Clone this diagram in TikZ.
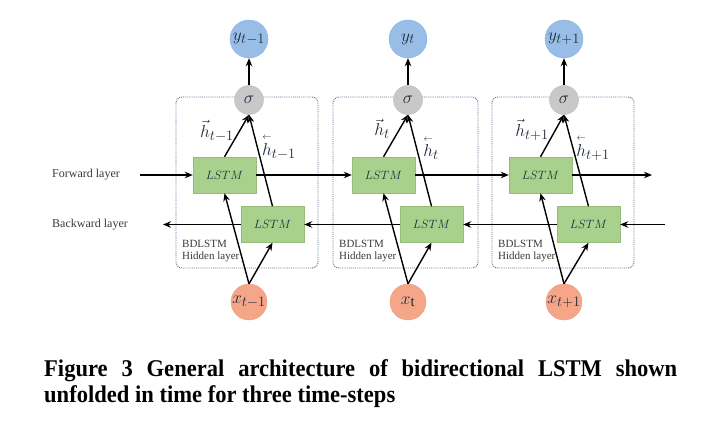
\documentclass[tikz,border=0pt]{standalone}
\usepackage{fontspec}
\setmainfont{Liberation Serif}
\usepackage{amsmath}
\usepackage{graphicx}
\usetikzlibrary{arrows.meta}
\DeclareMathSizes{19}{19}{14.5}{10}
\DeclareMathSizes{18}{18}{13.5}{9}
\DeclareMathSizes{13}{13}{9.5}{7}
\hbadness=10000
\newcommand{\lvec}[1]{\overset{\scriptscriptstyle\leftarrow}{#1}}
\definecolor{yfill}{HTML}{98BEE8}
\definecolor{ybord}{HTML}{8AB0DC}
\definecolor{sfill}{HTML}{C8C8C8}
\definecolor{sbord}{HTML}{BBBBBB}
\definecolor{xfill}{HTML}{F5A588}
\definecolor{xbord}{HTML}{EE9A7C}
\definecolor{gfill}{HTML}{A9D18E}
\definecolor{gbord}{HTML}{94BE78}
\definecolor{dotcol}{HTML}{5E7090}
\definecolor{txtcol}{HTML}{3A3A3A}
\definecolor{mtxt}{HTML}{1E2A3A}
\begin{document}
\begin{tikzpicture}[x=1pt,y=-1pt,
  ycirc/.style={circle,draw=ybord,fill=yfill,minimum size=38pt,inner sep=0pt,font=\fontsize{19}{21}\selectfont,text=mtxt},
  scirc/.style={circle,draw=sbord,fill=sfill,minimum size=29pt,inner sep=0pt,font=\fontsize{19}{21}\selectfont,text=mtxt},
  xcirc/.style={circle,draw=xbord,fill=xfill,minimum size=36pt,inner sep=0pt,font=\fontsize{19}{21}\selectfont,text=mtxt},
  lstm/.style={draw=gbord,fill=gfill,minimum width=63pt,minimum height=36pt,inner sep=0pt,font=\fontsize{13}{15}\selectfont,text=mtxt},
  hidbox/.style={draw=dotcol,densely dotted,line width=0.9pt,rounded corners=6pt},
  arr/.style={-{Stealth[length=8pt,width=6.5pt]},line width=1.4pt},
  hlab/.style={font=\fontsize{18}{20}\selectfont,inner sep=0pt,text=mtxt},
  side/.style={font=\fontsize{12}{14}\selectfont,anchor=west,inner sep=0pt,text=txtcol},
  bdl/.style={font=\fontsize{11}{12.5}\selectfont,align=left,anchor=north west,inner sep=0pt,text=txtcol}]

\useasboundingbox[fill=white] (0,0) rectangle (713,422);

% hidden-layer boxes
\draw[hidbox] (176,97) rectangle (318,268);
\draw[hidbox] (333,97) rectangle (478,268);
\draw[hidbox] (492,97) rectangle (634,268);

% column 1
\node[ycirc] (y1) at (249,39) {$y_{t-1}$};
\node[scirc] (s1) at (249,100) {$\sigma$};
\node[lstm] (f1) at (224.5,175) {$LSTM$};
\node[lstm] (b1) at (272.5,224.5) {$LSTM$};
\node[xcirc] (x1) at (249,302) {$x_{t-1}$};
% column 2
\node[ycirc] (y2) at (408,39) {$y_{t}$};
\node[scirc] (s2) at (408,100) {$\sigma$};
\node[lstm] (f2) at (383.5,175) {$LSTM$};
\node[lstm] (b2) at (431.5,224.5) {$LSTM$};
\node[xcirc] (x2) at (408,302) {$x_{\mathrm{t}}$};
% column 3
\node[ycirc] (y3) at (564,39) {$y_{t+1}$};
\node[scirc] (s3) at (564,100) {$\sigma$};
\node[lstm] (f3) at (540.5,175) {$LSTM$};
\node[lstm] (b3) at (588.5,224.5) {$LSTM$};
\node[xcirc] (x3) at (564,302) {$x_{t+1}$};

% vertical connections
\foreach \i in {1,2,3}{
  \draw[arr] (s\i) -- (y\i);
  \draw[arr] (f\i.north) -- (s\i.south);
  \draw[arr] (b\i.north) -- (s\i.south);
  \draw[arr] (x\i.north) -- (f\i.south);
  \draw[arr] (x\i.north) -- (b\i.south);
}

% horizontal connections
\coordinate (fin) at (140,175);
\coordinate (fout) at (652,175);
\coordinate (bin) at (665,224.5);
\coordinate (bout) at (163,224.5);
\draw[arr] (fin) -- (f1.west);
\draw[arr] (f1.east) -- (f2.west);
\draw[arr] (f2.east) -- (f3.west);
\draw[arr] (f3.east) -- (fout);
\draw[arr] (bin) -- (b3.east);
\draw[arr] (b3.west) -- (b2.east);
\draw[arr] (b2.west) -- (b1.east);
\draw[arr] (b1.west) -- (bout);

% h labels
\node[hlab] (hf1) at (217,131) {$\vec{h}_{t-1}$};
\node[hlab] (hb1) at (279,147) {$\lvec{h}_{t-1}$};
\node[hlab] (hf2) at (382,129) {$\vec{h}_{t}$};
\node[hlab] (hb2) at (431,148) {$\lvec{h}_{t}$};
\node[hlab] (hf3) at (532,130) {$\vec{h}_{t+1}$};
\node[hlab] (hb3) at (593,148) {$\lvec{h}_{t+1}$};

% side labels
\node[side] (fl) at (52,175) {Forward layer};
\node[side] (bl) at (52,225) {Backward layer};

% box labels
\node[bdl] (bd1) at (182,240) {BDLSTM\\Hidden layer};
\node[bdl] (bd2) at (339,240) {BDLSTM\\Hidden layer};
\node[bdl] (bd3) at (498,240) {BDLSTM\\Hidden layer};

% caption
\node[anchor=base west,inner sep=0pt] (cap) at (44,377) {\scalebox{0.94}[1]{\parbox[t]{673.4pt}{\fontsize{24}{26}\selectfont\bfseries Figure 3 General architecture of bidirectional LSTM shown\linebreak unfolded in time for three time-steps}}};
\end{tikzpicture}
\end{document}
